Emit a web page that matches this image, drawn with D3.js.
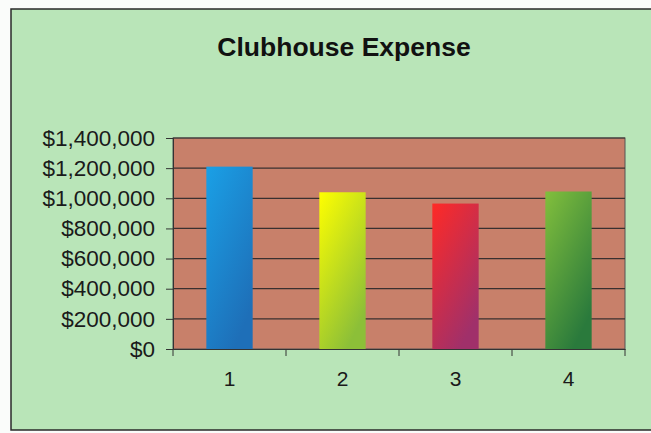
<!DOCTYPE html>
<html><head><meta charset="utf-8">
<script src="https://cdn.jsdelivr.net/npm/d3@7"></script>
<style>
html,body{margin:0;padding:0;background:#fafcfa;}
svg{display:block;font-family:Arial,"Liberation Sans",sans-serif;}
</style></head>
<body>
<svg id="chart" width="651" height="433"></svg>
<script>
const title = "Clubhouse Expense";
const categories = ["1","2","3","4"];
const values = [1210000, 1040000, 965000, 1045000];
const yTicks = [0,200000,400000,600000,800000,1000000,1200000,1400000];
const barColors = [
  ["#1aa0e6","#1e6fb8"],
  ["#ffff00","#8cbf38"],
  ["#ff2a26","#a0306a"],
  ["#82bf3c","#2a7a3c"]
];

const svg = d3.select("#chart");
const W = 651, H = 433;
const m = {left:173, right:26, top:138, bottom:84};
const pw = W - m.left - m.right, ph = H - m.top - m.bottom;

// outer frame
svg.append("rect").attr("x",11).attr("y",9).attr("width",W).attr("height",421)
  .attr("fill","#b9e5b8").attr("stroke","#2a2a2a").attr("stroke-width",1.5);

const defs = svg.append("defs");
barColors.forEach((c,i)=>{
  const g = defs.append("linearGradient").attr("id","g"+i)
    .attr("x1","0").attr("y1","0").attr("x2","0.6").attr("y2","1");
  g.append("stop").attr("offset","0").attr("stop-color",c[0]);
  g.append("stop").attr("offset","1").attr("stop-color",c[1]);
});

svg.append("text").attr("x",344).attr("y",56).attr("text-anchor","middle")
  .attr("font-size",26.5).attr("font-weight","bold").attr("fill","#111").text(title);

const x = d3.scaleBand().domain(categories).range([m.left, m.left+pw]).paddingInner(0.59).paddingOuter(0.295);
const y = d3.scaleLinear().domain([0,1400000]).range([m.top+ph, m.top]);

svg.append("rect").attr("x",m.left).attr("y",m.top).attr("width",pw).attr("height",ph)
  .attr("fill","#c8806a").attr("stroke","#555").attr("stroke-width",1);

// gridlines
svg.append("g").selectAll("line").data(yTicks.slice(1)).join("line")
  .attr("x1",m.left).attr("x2",m.left+pw)
  .attr("y1",d=>y(d)).attr("y2",d=>y(d))
  .attr("stroke","#3a3030").attr("stroke-width",1.2);

// bars
svg.append("g").selectAll("rect").data(values).join("rect")
  .attr("x",(d,i)=>x(categories[i])).attr("width",x.bandwidth())
  .attr("y",d=>y(d)).attr("height",d=>y(0)-y(d))
  .attr("fill",(d,i)=>"url(#g"+i+")");

// y axis
const yAxis = d3.axisLeft(y).tickValues(yTicks).tickSize(7).tickPadding(11)
  .tickFormat(d=>"$"+d3.format(",")(d));
const ya = svg.append("g").attr("transform",`translate(${m.left},0)`).call(yAxis);
ya.selectAll("text").attr("font-size",22.5).attr("fill","#1a1a1a").attr("font-family","Arial,'Liberation Sans',sans-serif");
ya.selectAll("line,path").attr("stroke","#333");

// x axis
const xAxis = d3.axisBottom(x).tickSize(0).tickPadding(22);
const xa = svg.append("g").attr("transform",`translate(0,${m.top+ph})`).call(xAxis);
xa.selectAll("text").attr("font-size",21).attr("fill","#1a1a1a").attr("font-family","Arial,'Liberation Sans',sans-serif");
xa.select("path").attr("stroke","#333");
// category boundary ticks
svg.append("g").selectAll("line").data(d3.range(categories.length+1)).join("line")
  .attr("x1",d=>m.left+d*pw/categories.length).attr("x2",d=>m.left+d*pw/categories.length)
  .attr("y1",m.top+ph).attr("y2",m.top+ph+7).attr("stroke","#333");
</script>
</body></html>
